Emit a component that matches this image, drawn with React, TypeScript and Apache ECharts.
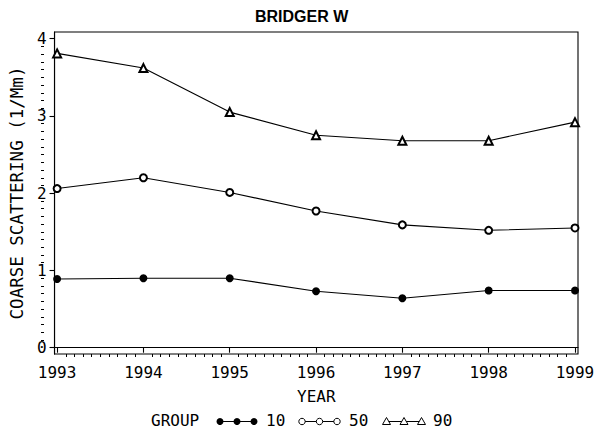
import React, { useEffect, useRef } from "react";
import * as echarts from "echarts";

const years = [1993, 1994, 1995, 1996, 1997, 1998, 1999];
const group10 = [0.89, 0.9, 0.9, 0.73, 0.64, 0.74, 0.74];
const group50 = [2.06, 2.2, 2.01, 1.77, 1.59, 1.52, 1.55];
const group90 = [3.81, 3.62, 3.05, 2.75, 2.68, 2.68, 2.92];
const yTicks = [0, 1, 2, 3, 4];
const groupNames = ["10", "50", "90"];

const MONO = "'DejaVu Sans Mono', monospace";

function minorValues(major: number[], n: number): number[] {
  const out: number[] = [];
  for (let i = 0; i < major.length - 1; i++) {
    const step = (major[i + 1] - major[i]) / n;
    for (let k = 1; k < n; k++) out.push(major[i] + step * k);
  }
  return out;
}

export default function App() {
  const ref = useRef<HTMLDivElement>(null);
  useEffect(() => {
    if (!ref.current) return;
    const chart = echarts.init(ref.current, null, { renderer: "svg" });
    const gl = 44, gr = 22, gt = 32, gb = 76;
    const gw = 600 - gl - gr;
    const gh = 430 - gt - gb;
    const xMin = 1992.97;
    const xMax = 1999.035;
    const yMin = -0.0815;
    const yMax = 4.087;
    const pairs = (vals: number[]) => years.map((y, i) => [y, vals[i]]);
    const lineStyle = { color: "#000", width: 1.1 };
    const ly = 421.5;
    const txt = (left: number, text: string) => ({
      type: "text", left, top: ly - 9, style: { text, font: `16px ${MONO}`, fill: "#000" },
    });
    const legendItems: any[] = [
      txt(151, "GROUP"),
      { type: "line", shape: { x1: 220, y1: ly, x2: 254, y2: ly }, style: { stroke: "#000", lineWidth: 1.1 } },
      ...[220, 237, 254].map((cx) => ({ type: "circle", shape: { cx, cy: ly, r: 3.5 }, style: { fill: "#000" } })),
      txt(266, groupNames[0]),
      { type: "line", shape: { x1: 302, y1: ly, x2: 337, y2: ly }, style: { stroke: "#000", lineWidth: 1.1 } },
      ...[302, 319.5, 337].map((cx) => ({
        type: "circle", shape: { cx, cy: ly, r: 3.2 }, style: { fill: "#fff", stroke: "#000", lineWidth: 1 },
      })),
      txt(349, groupNames[1]),
      { type: "line", shape: { x1: 386.5, y1: ly, x2: 421.5, y2: ly }, style: { stroke: "#000", lineWidth: 1.1 } },
      ...[386.5, 404, 421.5].map((cx) => ({
        type: "polygon",
        shape: { points: [[cx, ly - 4], [cx + 4, ly + 3], [cx - 4, ly + 3]] },
        style: { fill: "#fff", stroke: "#000", lineWidth: 1 },
      })),
      txt(433, groupNames[2]),
    ];
    chart.setOption({
      animation: false,
      backgroundColor: "#fff",
      title: {
        text: "BRIDGER W",
        left: 250,
        top: 3,
        textStyle: { fontFamily: "'Liberation Sans', Arial, sans-serif", fontWeight: "bold", fontSize: 16, color: "#000" },
      },
      grid: { left: gl, right: gr, top: gt, bottom: gb, show: true, borderColor: "#000", borderWidth: 1.1, containLabel: false },
      xAxis: [
        {
          type: "value",
          min: xMin,
          max: xMax,
          position: "bottom",
          name: "YEAR",
          nameLocation: "middle",
          nameGap: 34,
          nameTextStyle: { fontFamily: MONO, fontSize: 16, color: "#000" },
          axisLine: { show: true, lineStyle: { color: "#000", width: 1.1 } },
          axisTick: { show: true, customValues: years, length: 5, lineStyle: { color: "#000", width: 1.1 } },
          axisLabel: { show: true, customValues: years, margin: 10, fontFamily: MONO, fontSize: 16, color: "#000", formatter: (v: number) => String(v) },
          splitLine: { show: false },
        },
        {
          type: "value",
          min: xMin,
          max: xMax,
          position: "top",
          offset: -gh,
          axisLine: { show: false },
          axisTick: { show: true, inside: true, customValues: minorValues(years, 10), length: 3, lineStyle: { color: "#000", width: 1 } },
          axisLabel: { show: false },
          splitLine: { show: false },
        },
      ],
      yAxis: [
        {
          type: "value",
          min: yMin,
          max: yMax,
          position: "left",
          name: "COARSE SCATTERING (1/Mm)",
          nameLocation: "middle",
          nameGap: 19,
          nameTextStyle: { fontFamily: MONO, fontSize: 17.5, color: "#000" },
          axisLine: { show: true, lineStyle: { color: "#000", width: 1.1 } },
          axisTick: { show: true, customValues: yTicks, length: 5, lineStyle: { color: "#000", width: 1.1 } },
          axisLabel: { show: true, customValues: yTicks, margin: 8, fontFamily: MONO, fontSize: 16, color: "#000", formatter: (v: number) => String(v) },
          splitLine: { show: false },
        },
        {
          type: "value",
          min: yMin,
          max: yMax,
          position: "right",
          offset: -gw,
          axisLine: { show: false },
          axisTick: { show: true, inside: true, customValues: minorValues(yTicks, 10), length: 3, lineStyle: { color: "#000", width: 1 } },
          axisLabel: { show: false },
          splitLine: { show: false },
        },
      ],
      series: [
        {
          name: groupNames[0],
          type: "line",
          data: pairs(group10),
          symbol: "circle",
          symbolSize: 8,
          itemStyle: { color: "#000" },
          lineStyle,
        },
        {
          name: groupNames[1],
          type: "line",
          data: pairs(group50),
          symbol: "emptyCircle",
          symbolSize: 7,
          itemStyle: { color: "#000", borderWidth: 1 },
          lineStyle,
        },
        {
          name: groupNames[2],
          type: "line",
          data: pairs(group90),
          symbol: "emptyTriangle",
          symbolSize: 8,
          itemStyle: { color: "#000", borderWidth: 1 },
          lineStyle,
        },
      ],
      graphic: legendItems,
    });
    return () => chart.dispose();
  }, []);
  return <div ref={ref} style={{ position: "fixed", left: 0, top: 0, width: 600, height: 430 }} />;
}
